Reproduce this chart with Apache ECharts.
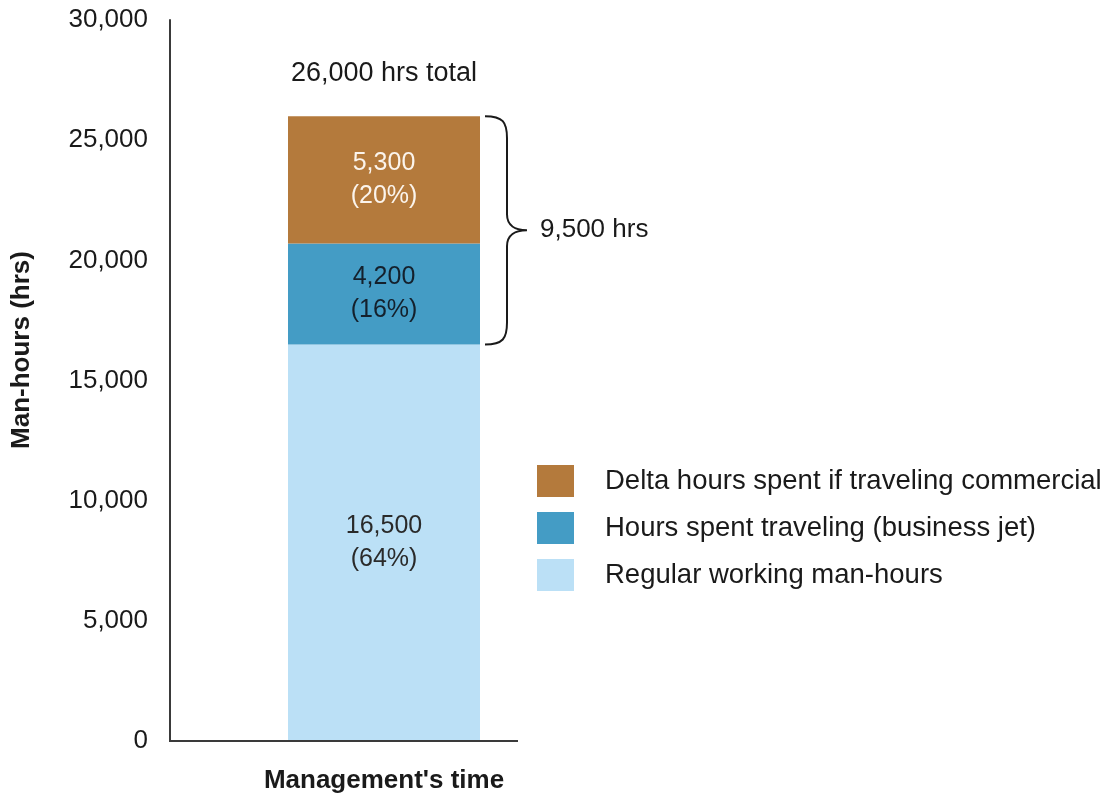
<!DOCTYPE html>
<html>
<head>
<meta charset="utf-8">
<title>Management's time</title>
<script src="https://cdn.jsdelivr.net/npm/echarts@6/dist/echarts.min.js"></script>
<style>
  html, body { margin: 0; padding: 0; background: #ffffff; }
  #chart { width: 1109px; height: 798px; }
</style>
</head>
<body>
<div id="chart"></div>
<script>
// Categories and values (man-hours)
const categories = ["Management's time"];
const regularHours = [16500];
const jetTravelHours = [4200];
const commercialDeltaHours = [5300];
// Shares of the total as printed on each segment
const regularPct = [64];
const jetTravelPct = [16];
const commercialDeltaPct = [20];
const seriesNames = [
  'Delta hours spent if traveling commercial',
  'Hours spent traveling (business jet)',
  'Regular working man-hours'
];
const yTicks = [0, 5000, 10000, 15000, 20000, 25000, 30000];

const FONT = "'Liberation Sans', Arial, Helvetica, sans-serif";
const BAR_WIDTH = 192;
const fmt = v => Number(v).toLocaleString('en-US');

const totals = categories.map((_, i) => regularHours[i] + jetTravelHours[i] + commercialDeltaHours[i]);

function segLabel(color, shares) {
  return {
    show: true,
    position: 'inside',
    formatter: p => fmt(p.value) + '\n(' + shares[p.dataIndex] + '%)',
    fontFamily: FONT,
    fontSize: 25,
    lineHeight: 33,
    color: color
  };
}

const yName = {
  type: 'text',
  x: 22,
  y: 350,
  rotation: Math.PI / 2,
  style: {
    text: 'Man-hours (hrs)',
    fontFamily: FONT,
    fontSize: 26,
    fontWeight: 'bold',
    fill: '#1a1a1a',
    textAlign: 'center',
    textVerticalAlign: 'middle'
  }
};

const chart = echarts.init(document.getElementById('chart'), null, { renderer: 'canvas' });

const option = {
  backgroundColor: '#ffffff',
  animation: false,
  grid: { left: 170, right: 511, top: 20, bottom: 57, containLabel: false },
  legend: {
    orient: 'vertical',
    left: 532,
    top: 460,
    itemWidth: 37,
    itemHeight: 32,
    itemGap: 15,
    icon: 'rect',
    data: seriesNames,
    textStyle: {
      fontFamily: FONT,
      fontSize: 27.5,
      color: '#1a1a1a',
      padding: [0, 0, 0, 26]
    }
  },
  xAxis: {
    type: 'category',
    data: categories,
    axisLine: { show: false },
    axisTick: { show: false },
    axisLabel: {
      fontFamily: FONT,
      fontSize: 26,
      fontWeight: 'bold',
      color: '#1a1a1a',
      margin: 27
    }
  },
  yAxis: {
    type: 'value',
    min: yTicks[0],
    max: yTicks[yTicks.length - 1],
    interval: yTicks[1] - yTicks[0],
    splitLine: { show: false },
    axisTick: { show: false },
    axisLine: { show: true, lineStyle: { color: '#3a3a3a', width: 2 } },
    axisLabel: {
      fontFamily: FONT,
      fontSize: 26,
      color: '#1a1a1a',
      margin: 22,
      formatter: v => fmt(v)
    }
  },
  series: [
    {
      name: seriesNames[2],
      type: 'bar',
      stack: 'hours',
      barWidth: BAR_WIDTH,
      data: regularHours,
      itemStyle: { color: '#BBE0F6' },
      label: segLabel('#2a2a2a', regularPct)
    },
    {
      name: seriesNames[1],
      type: 'bar',
      stack: 'hours',
      barWidth: BAR_WIDTH,
      data: jetTravelHours,
      itemStyle: { color: '#449CC5' },
      label: segLabel('#14202c', jetTravelPct)
    },
    {
      name: seriesNames[0],
      type: 'bar',
      stack: 'hours',
      barWidth: BAR_WIDTH,
      data: commercialDeltaHours,
      itemStyle: { color: '#B47A3C' },
      label: segLabel('#fbf4ec', commercialDeltaPct)
    },
    {
      // Curly brace over the travel-related hours, plus the total above the bar
      type: 'custom',
      silent: true,
      z: 5,
      data: categories.map((_, i) => [i, regularHours[i], totals[i]]),
      encode: { x: 0, y: [1, 2] },
      renderItem: function (params, api) {
        const idx = api.value(0);
        const lo = api.value(1);
        const hi = api.value(2);
        const pTop = api.coord([idx, hi]);
        const pBot = api.coord([idx, lo]);
        const xa = pTop[0] + BAR_WIDTH / 2 + 5;
        const xb = xa + 22;
        const xc = xa + 42;
        const yt = pTop[1];
        const yb = pBot[1];
        const ym = (yt + yb) / 2;
        const d = [
          'M', xa, yt,
          'C', xb - 4, yt, xb, yt + 6, xb, yt + 22,
          'L', xb, ym - 16,
          'C', xb, ym - 5, xc - 12, ym, xc, ym,
          'C', xc - 12, ym, xb, ym + 5, xb, ym + 16,
          'L', xb, yb - 22,
          'C', xb, yb - 6, xb - 4, yb, xa, yb
        ].join(' ');
        return {
          type: 'group',
          children: [
            {
              type: 'path',
              shape: { pathData: d },
              style: { fill: 'none', stroke: '#1a1a1a', lineWidth: 2 }
            },
            {
              type: 'text',
              style: {
                x: xc + 13,
                y: ym,
                text: fmt(hi - lo) + ' hrs',
                fontFamily: FONT,
                fontSize: 26,
                fill: '#1a1a1a',
                textAlign: 'left',
                textVerticalAlign: 'middle'
              }
            },
            {
              type: 'text',
              style: {
                x: pTop[0],
                y: yt - 43,
                text: fmt(hi) + ' hrs total',
                fontFamily: FONT,
                fontSize: 27,
                fill: '#1a1a1a',
                textAlign: 'center',
                textVerticalAlign: 'middle'
              }
            }
          ]
        };
      }
    }
  ],
  graphic: [yName]
};

chart.setOption(option);

// Short baseline along the category axis
const baseY = chart.convertToPixel({ yAxisIndex: 0 }, 0);
chart.setOption({
  graphic: [
    yName,
    {
      type: 'line',
      shape: { x1: 169, y1: baseY, x2: 518, y2: baseY },
      style: { stroke: '#3a3a3a', lineWidth: 2 },
      z: 10
    }
  ]
});
</script>
</body>
</html>
